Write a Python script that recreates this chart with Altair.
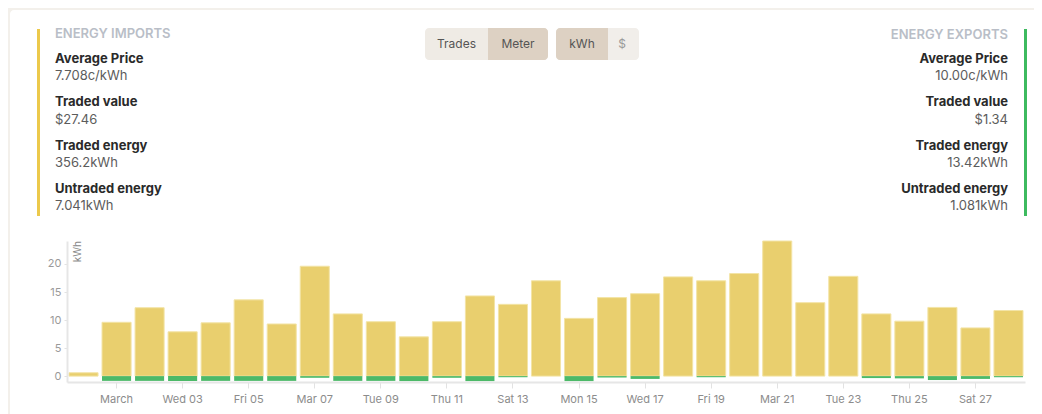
import altair as alt
import pandas as pd

# ---- data ----
dates = ["2021-02-28"] + [f"2021-03-{d:02d}" for d in range(1, 29)]
imports_kwh = [0.6, 9.6, 12.2, 7.9, 9.5, 13.6, 9.3, 19.6, 11.1, 9.7, 7.0, 9.7, 14.3, 12.8, 17.0,
               10.3, 14.0, 14.7, 17.7, 17.0, 18.3, 24.1, 13.1, 17.8, 11.1, 9.8, 12.25, 8.6, 11.7]
exports_kwh = [0.0, 0.85, 0.85, 0.85, 0.85, 0.85, 0.85, 0.3, 0.85, 0.85, 0.9, 0.3, 0.9, 0.2, 0.0,
               0.9, 0.25, 0.5, 0.0, 0.2, 0.0, 0.0, 0.0, 0.0, 0.35, 0.4, 0.7, 0.5, 0.2]
tick_dates = [f"2021-03-{d:02d}" for d in range(1, 29, 2)]
tick_labels = ["March", "Wed 03", "Fri 05", "Mar 07", "Tue 09", "Thu 11", "Sat 13",
               "Mon 15", "Wed 17", "Fri 19", "Mar 21", "Tue 23", "Thu 25", "Sat 27"]
y_ticks = [0, 5, 10, 15, 20]

imports_title = "ENERGY IMPORTS"
exports_title = "ENERGY EXPORTS"
imports_stats = [("Average Price", "7.708c/kWh"), ("Traded value", "$27.46"),
                 ("Traded energy", "356.2kWh"), ("Untraded energy", "7.041kWh")]
exports_stats = [("Average Price", "10.00c/kWh"), ("Traded value", "$1.34"),
                 ("Traded energy", "13.42kWh"), ("Untraded energy", "1.081kWh")]
toggle1 = ["Trades", "Meter"]
toggle2 = ["kWh", "$"]

YELLOW = "#e9cf6e"
GREEN = "#4cb968"
FONT = "Inter"

df = pd.DataFrame({"date": dates, "imports": imports_kwh,
                   "exports": [-v for v in exports_kwh]})

labels_js = "[" + ",".join(f"'{l}'" for l in tick_labels) + "]"
dates_js = "[" + ",".join(f"'{d}'" for d in tick_dates) + "]"

xenc = alt.X("date:O", title=None,
             scale=alt.Scale(paddingInner=0.12, paddingOuter=0.06),
             axis=alt.Axis(values=tick_dates, labelExpr=f"{labels_js}[indexof({dates_js}, datum.value)]",
                           labelAngle=0, labelColor="#8c8c8c", labelFontSize=11, labelFont=FONT,
                           tickColor="#e2e2e2", tickSize=6, labelPadding=5,
                           domainColor="#e6e6e6", domainWidth=2, zindex=1))
yscale = alt.Scale(domain=[-1.05, 24.1], nice=False)
yaxis = alt.Axis(values=y_ticks, title=None, grid=False, labelColor="#9a9a9a", labelFontSize=11,
                 labelFont=FONT, tickColor="#e2e2e2", tickSize=3, labelPadding=3,
                 domainColor="#e6e6e6", domainWidth=2, zindex=1)

one = alt.Data(values=[{"k": 0}])


def txt(s, x, y, **kw):
    return alt.Chart(one).mark_text(text=s, font=FONT, baseline="middle", **kw).encode(
        x=alt.value(x), y=alt.value(y))


def box(x, x2, y, y2, **kw):
    return alt.Chart(one).mark_rect(**kw).encode(
        x=alt.value(x), x2=alt.value(x2), y=alt.value(y), y2=alt.value(y2))


layers = []
# white card
layers.append(box(-57, 1000, -231, 400, color="white", cornerRadius=4))

# bars
imp = alt.Chart(df).mark_bar(color=YELLOW, stroke="#f3e4a6", strokeWidth=1).encode(
    x=xenc, y=alt.Y("imports:Q", scale=yscale, axis=yaxis))
exp = alt.Chart(df).mark_bar(color=GREEN).encode(
    x=xenc, y=alt.Y("exports:Q", scale=yscale, axis=yaxis))
layers += [imp, exp]

# y axis unit label
layers.append(alt.Chart(one).mark_text(text="kWh", font=FONT, angle=270, align="right", baseline="top",
                                       fontSize=10, color="#888888").encode(x=alt.value(6), y=alt.value(0)))

# left panel
layers.append(box(-30, -27, -212, -25, color="#ecc94b"))
layers.append(txt(imports_title, -12, -207, align="left", fontSize=13, fontWeight=600, color="#b9bec7"))
ys = [(-182, -165), (-139, -121), (-95, -78), (-52, -35)]
for (lab, val), (y1, y2) in zip(imports_stats, ys):
    layers.append(txt(lab, -12, y1, align="left", fontSize=13, fontWeight="bold", color="#2a2a2a"))
    layers.append(txt(val, -12, y2, align="left", fontSize=13, color="#5c5c5c"))

# right panel
layers.append(box(957, 960, -212, -25, color="#3dba5f"))
layers.append(txt(exports_title, 941, -206, align="right", fontSize=13, fontWeight=600, color="#b9bec7"))
for (lab, val), (y1, y2) in zip(exports_stats, ys):
    layers.append(txt(lab, 941, y1, align="right", fontSize=13, fontWeight="bold", color="#2a2a2a"))
    layers.append(txt(val, 941, y2, align="right", fontSize=13, color="#5c5c5c"))

# toggles
LIGHT = "#efebe5"
DARK = "#ddd1c3"
layers.append(box(358, 481, -213, -181, color=LIGHT, cornerRadius=4))
layers.append(box(421, 481, -213, -181, color=DARK, cornerRadiusTopRight=4, cornerRadiusBottomRight=4))
layers.append(box(489, 572, -213, -181, color="#f1eeea", cornerRadius=4))
layers.append(box(489, 541, -213, -181, color=DARK, cornerRadiusTopLeft=4, cornerRadiusBottomLeft=4))
layers.append(txt(toggle1[0], 389.5, -197, align="center", fontSize=12, color="#555555"))
layers.append(txt(toggle1[1], 451, -197, align="center", fontSize=12, color="#555555"))
layers.append(txt(toggle2[0], 515, -197, align="center", fontSize=12, color="#555555"))
layers.append(txt(toggle2[1], 555, -197, align="center", fontSize=12, color="#9a9a9a"))

chart = alt.layer(*layers).properties(
    width=958, height=141,
    padding={"left": 59, "top": 233, "right": 9, "bottom": 32},
    autosize=alt.AutoSizeParams(type="none"),
).configure(background="#f3f0eb", font=FONT).configure_view(stroke=None)

chart.save("out.html", embed_options={"renderer": "svg", "actions": False})
